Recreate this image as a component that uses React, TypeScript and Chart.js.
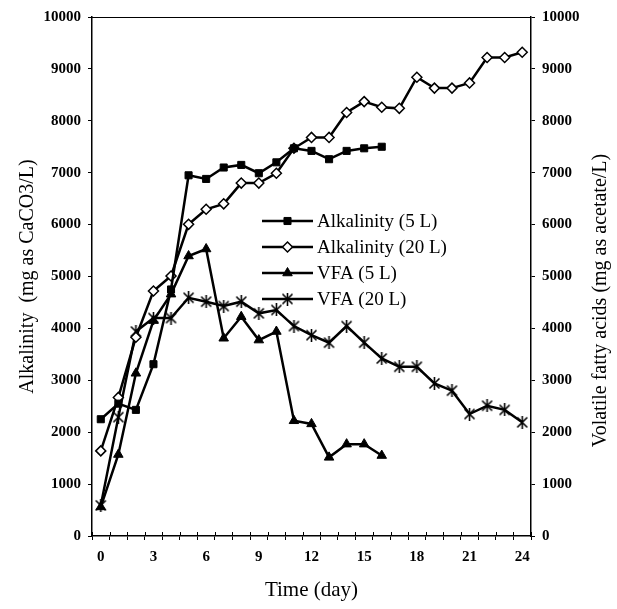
import React, { useEffect, useRef } from 'react';
import { Chart, registerables } from 'chart.js';
import { drawPoint } from 'chart.js/helpers';

Chart.register(...registerables);

const days = ['0', '1', '2', '3', '4', '5', '6', '7', '8', '9', '10', '11', '12', '13', '14', '15', '16', '17', '18', '19', '20', '21', '22', '23', '24'];
const shownDayLabels = ['0', '3', '6', '9', '12', '15', '18', '21', '24'];

const alkalinity5L = [2250, 2550, 2430, 3310, 4750, 6950, 6880, 7100, 7150, 6990, 7200, 7470, 7420, 7260, 7420, 7470, 7500, null, null, null, null, null, null, null, null];
const alkalinity20L = [1640, 2670, 3830, 4720, 5010, 6005, 6295, 6400, 6800, 6800, 6990, 7470, 7680, 7680, 8160, 8370, 8260, 8240, 8840, 8630, 8630, 8730, 9220, 9220, 9320];
const vfa5L = [560, 1570, 3135, 4150, 4660, 5395, 5530, 3810, 4225, 3775, 3940, 2220, 2160, 1515, 1770, 1770, 1550, null, null, null, null, null, null, null, null];
const vfa20L = [590, 2290, 3940, 4200, 4200, 4590, 4515, 4430, 4515, 4290, 4355, 4045, 3870, 3725, 4045, 3725, 3420, 3260, 3260, 2940, 2800, 2350, 2510, 2430, 2190];

const seriesNames = ['Alkalinity (5 L)', 'Alkalinity (20 L)', 'VFA (5 L)', 'VFA (20 L)'];
const leftTitle = 'Alkalinity  (mg as CaCO3/L)';
const rightTitle = 'Volatile fatty acids (mg as acetate/L)';
const xTitle = 'Time (day)';

const SERIF = '"Liberation Serif", "Times New Roman", serif';

function makeAsterisk(): HTMLCanvasElement {
  const c = document.createElement('canvas');
  c.width = 13;
  c.height = 13;
  const g = c.getContext('2d')!;
  g.strokeStyle = '#000';
  g.lineWidth = 1.6;
  g.beginPath();
  g.moveTo(1.5, 1.5); g.lineTo(11.5, 11.5);
  g.moveTo(11.5, 1.5); g.lineTo(1.5, 11.5);
  g.moveTo(6.5, 0); g.lineTo(6.5, 13);
  g.stroke();
  return c;
}

const overlayPlugin = {
  id: 'overlay',
  afterDraw(chart: any) {
    const { ctx, chartArea: ca } = chart;
    ctx.save();
    ctx.strokeStyle = '#000';
    ctx.lineWidth = 1;
    ctx.beginPath();
    ctx.moveTo(ca.left, ca.top + 0.5);
    ctx.lineTo(ca.right, ca.top + 0.5);
    ctx.stroke();

    const xs = chart.scales.x;
    const n = days.length;
    for (let i = 0; i <= n; i++) {
      const a = xs.getPixelForValue(Math.max(0, i - 1));
      const b = xs.getPixelForValue(Math.min(n - 1, i));
      let px = (a + b) / 2;
      if (i === 0) px = ca.left;
      if (i === n) px = ca.right;
      ctx.beginPath();
      ctx.moveTo(Math.round(px) + 0.5, ca.bottom);
      ctx.lineTo(Math.round(px) + 0.5, ca.bottom - 4);
      ctx.stroke();
    }

    ctx.save();
    ctx.translate(601, (ca.top + ca.bottom) / 2 + 24);
    ctx.rotate(-Math.PI / 2);
    ctx.font = '20px ' + SERIF;
    ctx.fillStyle = '#000';
    ctx.textAlign = 'center';
    ctx.textBaseline = 'middle';
    ctx.fillText(rightTitle, 0, 0);
    ctx.restore();

    const lx0 = 262, lx1 = 313, ty0 = 221, dy = 26;
    chart.data.datasets.forEach((ds: any, i: number) => {
      const y = ty0 + i * dy;
      ctx.strokeStyle = '#000';
      ctx.lineWidth = 2.5;
      ctx.beginPath();
      ctx.moveTo(lx0, y);
      ctx.lineTo(lx1, y);
      ctx.stroke();
      ctx.fillStyle = ds.pointBackgroundColor;
      ctx.strokeStyle = '#000';
      ctx.lineWidth = ds.pointBorderWidth;
      drawPoint(ctx, { pointStyle: ds.pointStyle, radius: ds.pointRadius, rotation: 0, borderWidth: ds.pointBorderWidth }, (lx0 + lx1) / 2, y);
      ctx.fillStyle = '#000';
      ctx.font = '19px ' + SERIF;
      ctx.textAlign = 'left';
      ctx.textBaseline = 'middle';
      ctx.fillText(ds.label, lx1 + 4, y + 1);
    });
    ctx.restore();
  },
};

export default function App() {
  const ref = useRef<HTMLCanvasElement>(null);
  useEffect(() => {
    if (!ref.current) return;
    const tickFont = { family: SERIF, size: 15, weight: 'bold' as const };
    const star = makeAsterisk();
    const chart = new Chart(ref.current, {
      type: 'line',
      data: {
        labels: days,
        datasets: [
          { label: seriesNames[0], data: alkalinity5L, yAxisID: 'y', borderColor: '#000', borderWidth: 2.5, pointStyle: 'rect', pointRadius: 5, pointBackgroundColor: '#000', pointBorderColor: '#000', pointBorderWidth: 1, tension: 0 },
          { label: seriesNames[1], data: alkalinity20L, yAxisID: 'y', borderColor: '#000', borderWidth: 2.5, pointStyle: 'rectRot', pointRadius: 5, pointBackgroundColor: '#fff', pointBorderColor: '#000', pointBorderWidth: 1.5, tension: 0 },
          { label: seriesNames[2], data: vfa5L, yAxisID: 'y2', borderColor: '#000', borderWidth: 2.5, pointStyle: 'triangle', pointRadius: 5.5, pointBackgroundColor: '#000', pointBorderColor: '#000', pointBorderWidth: 1, tension: 0 },
          { label: seriesNames[3], data: vfa20L, yAxisID: 'y2', borderColor: '#000', borderWidth: 2.5, pointStyle: star, pointRadius: 6, pointBackgroundColor: '#000', pointBorderColor: '#000', pointBorderWidth: 1.5, tension: 0 },
        ],
      },
      options: {
        animation: false,
        responsive: false,
        layout: { padding: { top: 17, left: 0, right: 0, bottom: 0 } },
        plugins: { legend: { display: false }, tooltip: { enabled: false } },
        scales: {
          x: {
            type: 'category',
            offset: true,
            grid: { offset: true, drawOnChartArea: false, drawTicks: true, tickLength: 4, color: '#000', lineWidth: 1 },
            border: { display: true, color: '#000', width: 1.5 },
            ticks: {
              autoSkip: false, maxRotation: 0, minRotation: 0, padding: 8, color: '#000', font: tickFont,
              callback: (_v: any, i: number) => (shownDayLabels.includes(days[i]) ? days[i] : ''),
            },
            title: { display: true, text: xTitle, color: '#000', font: { family: SERIF, size: 21 }, padding: { top: 0, bottom: 6 } },
            afterFit: (s: any) => { s.height = 73; },
          },
          y: {
            position: 'left',
            min: 0, max: 10000,
            ticks: { stepSize: 1000, padding: 7, color: '#000', font: tickFont, callback: (v: any) => String(v) },
            grid: { drawOnChartArea: false, drawTicks: true, tickLength: 4, color: '#000' },
            border: { display: true, color: '#000', width: 1.5 },
            title: { display: true, text: leftTitle, color: '#000', font: { family: SERIF, size: 20 }, padding: { top: 16, bottom: 0 } },
            afterFit: (s: any) => { s.width = 92; },
          },
          y2: {
            position: 'right',
            min: 0, max: 10000,
            ticks: { stepSize: 1000, padding: 7, color: '#000', font: tickFont, callback: (v: any) => String(v) },
            grid: { drawOnChartArea: false, drawTicks: true, tickLength: 4, color: '#000' },
            border: { display: true, color: '#000', width: 1.5 },
            title: { display: false },
            afterFit: (s: any) => { s.width = 86; },
          },
        },
      },
      plugins: [overlayPlugin],
    } as any);
    return () => chart.destroy();
  }, []);
  return (
    <div style={{ position: 'fixed', left: 0, top: 0, width: 617, height: 609, background: '#fff' }}>
      <canvas ref={ref} width={617} height={609} style={{ width: 617, height: 609, display: 'block' }} />
    </div>
  );
}
